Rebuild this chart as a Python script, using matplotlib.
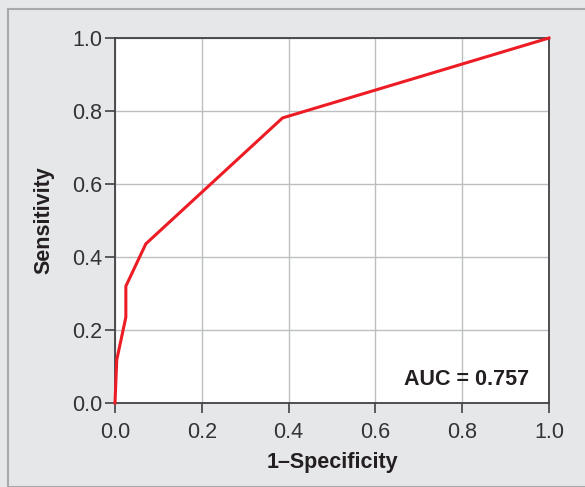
import numpy as np
import matplotlib.pyplot as plt
from matplotlib.patches import Rectangle

# ROC curve points
fpr = [0.0, 0.004, 0.025, 0.025, 0.071, 0.386, 1.0]
tpr = [0.0, 0.118, 0.235, 0.32, 0.436, 0.781, 1.0]
ticks = [0.0, 0.2, 0.4, 0.6, 0.8, 1.0]
auc_text = 'AUC = 0.757'

plt.rcParams['font.family'] = ['Liberation Sans', 'DejaVu Sans']
txt = '#231f20'

fig = plt.figure(figsize=(5.85, 4.87), dpi=100)
fig.patch.set_facecolor('#e6e7e9')
fig.patches.append(Rectangle((8/585, 0), 1, 1 - 9/487, transform=fig.transFigure,
                             fill=False, edgecolor='#a7a9ac', linewidth=1.5))

ax = fig.add_axes([115/585, 1 - 403/487, 434/585, 365/487])
ax.set_facecolor('white')
ax.plot(fpr, tpr, color='#ed1c24', linewidth=2.2, clip_on=False, zorder=3)

ax.set_xlim(0, 1)
ax.set_ylim(0, 1)
ax.set_xticks(ticks)
ax.set_yticks(ticks)
ax.set_xticklabels(['%.1f' % t for t in ticks])
ax.set_yticklabels(['%.1f' % t for t in ticks])
ax.grid(True, color='#bcbec0', linewidth=1.0)
ax.set_axisbelow(True)
ax.tick_params(direction='out', length=7, width=1.2, color='#414042',
               labelsize=15.5, labelcolor='#333333', pad=2)
ax.tick_params(axis='x', pad=7)
for s in ax.spines.values():
    s.set_color('#414042')
    s.set_linewidth(1.3)

ax.set_xlabel('1\u2013Specificity', fontsize=15.5, fontweight='bold', color=txt, labelpad=6)
ax.set_ylabel('Sensitivity', fontsize=15.5, fontweight='bold', color=txt, labelpad=13)

ax.text(0.955, 0.035, auc_text, ha='right', va='bottom', fontsize=15.5,
        fontweight='bold', color=txt)

fig.savefig('out.png', dpi=100, facecolor=fig.get_facecolor())
